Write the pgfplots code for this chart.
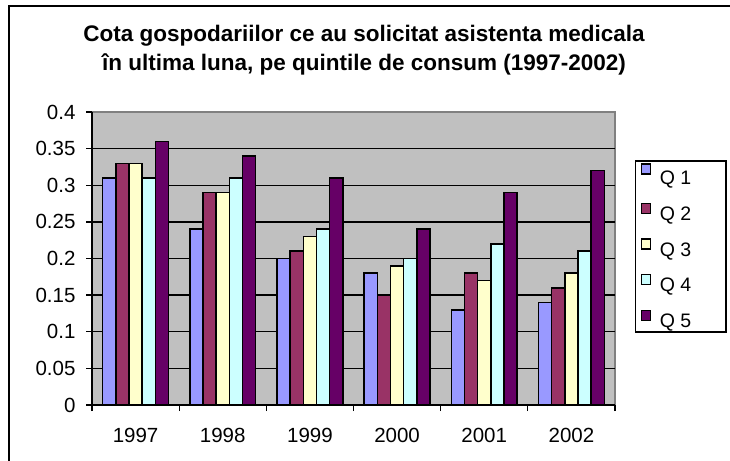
\documentclass[border=0pt]{standalone}
\usepackage{pgfplots}
\pgfplotsset{compat=1.18}
\usepackage{fontspec}
\setmainfont{Liberation Sans}
\definecolor{qa}{HTML}{9999FF}
\definecolor{qb}{HTML}{993366}
\definecolor{qc}{HTML}{FFFFCC}
\definecolor{qd}{HTML}{CCFFFF}
\definecolor{qe}{HTML}{660066}
\definecolor{plotgray}{HTML}{C0C0C0}
\begin{document}
\begin{tikzpicture}
\useasboundingbox (0pt,0pt) rectangle (730pt,460pt);
\draw[line width=2pt] (9pt,-20pt) -- (9pt,454pt) -- (760pt,454pt);
\node[font=\bfseries\fontsize{22.5}{29}\selectfont, align=center] at (364pt,410pt) {Cota gospodariilor ce au solicitat asistenta medicala\\în ultima luna, pe quintile de consum (1997-2002)};
\begin{axis}[
  at={(92pt,55pt)}, anchor=south west,
  scale only axis, width=523pt, height=293pt,
  ybar=0pt, bar width=0.151,
  xmin=-0.5, xmax=5.5, ymin=0, ymax=0.4,
  axis lines*=left,
  axis line style={-, black, line width=1.6pt},
  axis background/.style={fill=plotgray, draw=gray, line width=1.5pt},
  xtick={0,1,2,3,4,5},
  xticklabels={1997,1998,1999,2000,2001,2002},
  major x tick style={draw=none},
  minor xtick={-0.5,0.5,1.5,2.5,3.5,4.5,5.5},
  minor x tick style={black, line width=1.3pt},
  minor tick length=6pt,
  ytick={0,0.05,0.1,0.15,0.2,0.25,0.3,0.35},
  yticklabels={0,0.05,0.1,0.15,0.2,0.25,0.3,0.35},
  extra y ticks={0.4}, extra y tick labels={0.4},
  extra y tick style={grid=none},
  major y tick style={black, line width=1.3pt},
  major tick length=6pt,
  tick align=outside,
  ymajorgrids,
  grid style={black, line width=1.4pt},
  tick label style={font=\fontsize{20.5}{23}\selectfont},
  yticklabel style={xshift=-7pt},
  xticklabel style={yshift=-14pt},
  every axis plot/.append style={draw=black, line width=1.5pt},
  legend style={at={(1.038,0.836)}, anchor=north west, draw=black, line width=1.5pt, fill=white,
    font=\fontsize{19.5}{22}\selectfont, row sep=15.5pt, inner ysep=2pt, inner xsep=5pt,
    nodes={inner sep=1pt}},
  legend cell align=left,
  legend image code/.code={\draw[#1, draw=black, line width=1.2pt] (0pt,1pt) rectangle (9pt,11pt);},
]
\addplot[fill=qa] coordinates {(0,0.31) (1,0.24) (2,0.20) (3,0.18) (4,0.13) (5,0.14)};
\addlegendentry{\hspace{8pt}\makebox[60pt][l]{\rule{0pt}{21pt}Q 1}}
\addplot[fill=qb] coordinates {(0,0.33) (1,0.29) (2,0.21) (3,0.15) (4,0.18) (5,0.16)};
\addlegendentry{\hspace{8pt}\makebox[60pt][l]{Q 2}}
\addplot[fill=qc] coordinates {(0,0.33) (1,0.29) (2,0.23) (3,0.19) (4,0.17) (5,0.18)};
\addlegendentry{\hspace{8pt}\makebox[60pt][l]{Q 3}}
\addplot[fill=qd] coordinates {(0,0.31) (1,0.31) (2,0.24) (3,0.20) (4,0.22) (5,0.21)};
\addlegendentry{\hspace{8pt}\makebox[60pt][l]{Q 4}}
\addplot[fill=qe] coordinates {(0,0.36) (1,0.34) (2,0.31) (3,0.24) (4,0.29) (5,0.32)};
\addlegendentry{\hspace{8pt}\makebox[60pt][l]{Q 5}}
\end{axis}
\end{tikzpicture}
\end{document}
